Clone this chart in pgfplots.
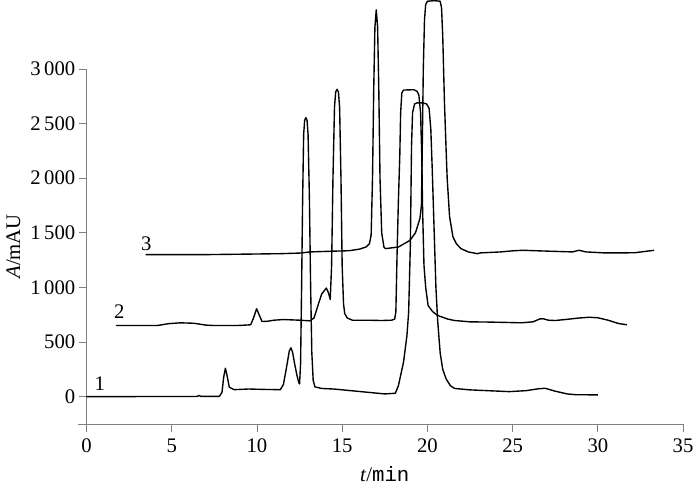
\documentclass[border=0pt]{standalone}
\usepackage{fontspec}
\setmainfont{Liberation Serif}
\setmonofont{Liberation Mono}
\usepackage{pgfplots}
\pgfplotsset{compat=1.18}

% chromatograms (t in min, A in mAU)
\pgfplotstableread{
t A
0 0
6.5 2
6.6 12
6.7 2
7.8 3
7.95 40
8.05 180
8.15 260
8.25 190
8.38 86
8.67 64
9.5 70
10.5 66
11.37 64
11.55 110
11.72 254
11.9 420
12.0 447
12.1 400
12.2 310
12.34 200
12.45 130
12.5 117
12.56 300
12.62 1000
12.68 1800
12.74 2400
12.8 2530
12.87 2555
12.94 2530
13.0 2400
13.08 1800
13.15 1000
13.22 400
13.3 150
13.4 90
13.8 75
14.5 70
15.5 55
16.5 40
17.5 25
18.12 31
18.3 101
18.6 316
18.8 560
18.9 774
19.0 1385
19.07 2300
19.13 2600
19.25 2680
19.4 2690
19.7 2690
19.95 2680
20.1 2640
20.2 2450
20.28 2100
20.4 1500
20.5 1000
20.6 700
20.75 400
20.9 250
21.1 162
21.35 100
21.6 75
22.5 62
23.5 55
24.8 46
25.8 55
26.5 72
26.9 77
27.5 50
28.2 25
28.7 18
30.0 16
}\runone

\pgfplotstableread{
t A
1.73 651
3 651
4.2 652
4.8 668
5.5 676
6.3 672
7.0 655
7.5 651
9.0 652
9.63 658
9.8 720
9.98 805
10.1 760
10.3 688
10.6 690
11.0 700
11.56 706
12.5 700
13.1 694
13.35 720
13.58 835
13.8 940
14.07 994
14.2 950
14.3 890
14.38 1200
14.46 2000
14.55 2650
14.62 2790
14.7 2814
14.78 2790
14.85 2650
14.93 2000
15.0 1200
15.08 850
15.15 760
15.3 720
15.6 700
16.5 700
17.3 697
17.9 700
18.08 710
18.15 774
18.22 1300
18.3 1800
18.38 2200
18.43 2600
18.5 2780
18.6 2807
19.2 2810
19.4 2795
19.5 2760
19.6 2600
19.67 2200
19.72 1700
19.8 1200
19.9 1000
20.04 835
20.3 780
20.6 743
21.2 710
21.6 697
22.5 685
23.5 683
24.5 680
25.5 676
26.2 685
26.6 712
26.8 713
27.1 700
27.5 697
28.2 708
28.9 720
29.5 727
30.0 722
30.6 700
31.2 670
31.7 658
}\runtwo

\pgfplotstableread{
t A
3.47 1300
6.8 1300
9.5 1305
11.4 1309
12.6 1315
13.1 1325
14.5 1332
15.4 1336
16.0 1350
16.4 1370
16.6 1400
16.7 1480
16.78 2000
16.85 2800
16.92 3380
17.0 3541
17.08 3380
17.15 2800
17.22 2000
17.32 1500
17.45 1370
17.54 1355
18.3 1370
18.98 1431
19.3 1500
19.56 1630
19.65 1752
19.7 2300
19.76 3000
19.83 3450
19.9 3590
20.0 3620
20.4 3625
20.75 3620
20.83 3560
20.9 3300
21.0 2700
21.1 2250
21.16 2000
21.3 1650
21.5 1462
21.7 1400
21.97 1355
22.4 1325
22.93 1309
23.1 1316
24.3 1325
25.0 1335
25.6 1340
26.5 1335
27.5 1330
28.5 1325
28.9 1340
29.3 1325
30.4 1316
31.5 1316
32.2 1318
33.3 1340
}\runthree

\begin{document}
\begin{tikzpicture}
\begin{axis}[
    scale only axis,
    width=302.5pt, height=180pt,
    xmin=0, xmax=35, ymin=-250, ymax=3000,
    axis lines=left,
    axis line style={-, gray},
    tick style={gray, thin},
    tick align=outside,
    major tick length=4pt,
    xtick={0,5,...,35},
    ytick={0,500,...,3000},
    /pgf/number format/assume math mode=true,
    /pgf/number format/1000 sep={\,},
    ticklabel style={font=\fontsize{10.5}{12}\selectfont},
    yticklabel style={inner sep=1.5pt},
    label style={font=\fontsize{10.5}{12}\selectfont},
    xlabel={\textit{t}/\texttt{min}},
    ylabel={\textit{A}/mAU},
    clip=false,
]
\addplot[black, line width=0.7pt, line join=round] table[x=t, y=A] {\runone};
\addplot[black, line width=0.7pt, line join=round] table[x=t, y=A] {\runtwo};
\addplot[black, line width=0.7pt, line join=round] table[x=t, y=A] {\runthree};
\draw[gray] (axis cs:-0.5,-250) -- (axis cs:0,-250);
\node[font=\fontsize{10.5}{12}\selectfont, anchor=south, inner sep=0pt] at (axis cs:0.78,50) {1};
\node[font=\fontsize{10.5}{12}\selectfont, anchor=south, inner sep=0pt] at (axis cs:1.93,712) {2};
\node[font=\fontsize{10.5}{12}\selectfont, anchor=south, inner sep=0pt] at (axis cs:3.51,1335) {3};
\end{axis}
\end{tikzpicture}
\end{document}
